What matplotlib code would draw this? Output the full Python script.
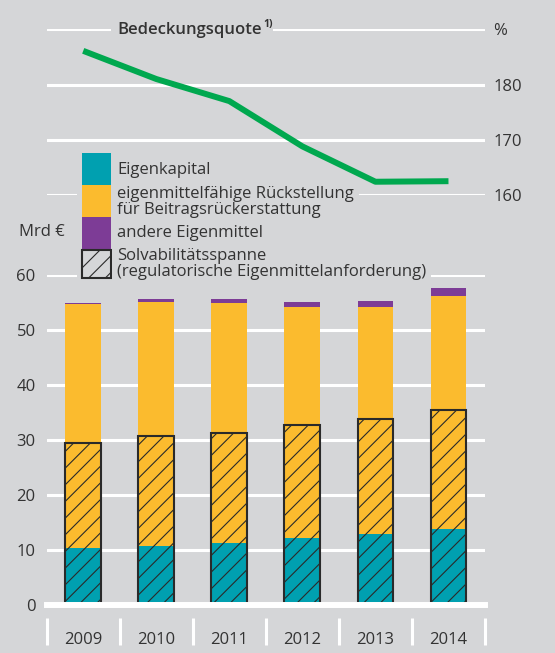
import matplotlib
matplotlib.use("Agg")
import matplotlib.pyplot as plt
from matplotlib.patches import Rectangle
import numpy as np

plt.rcParams['font.family'] = ['Open Sans', 'DejaVu Sans']
plt.rcParams['hatch.linewidth'] = 0.8

# ---- data ----
years = ["2009", "2010", "2011", "2012", "2013", "2014"]
bedeckungsquote = [186.1, 181.0, 177.0, 168.8, 162.4, 162.5]
eigenkapital = [10.3, 10.7, 11.3, 12.2, 13.0, 13.8]
rueckstellung = [44.5, 44.4, 43.7, 41.9, 41.2, 42.4]
andere_eigenmittel = [0.2, 0.5, 0.6, 1.05, 1.0, 1.5]
solvabilitaetsspanne = [29.4, 30.8, 31.3, 32.7, 33.9, 35.4]
bar_ticks = [0, 10, 20, 30, 40, 50, 60]
pct_ticks = [160, 170, 180, 190]
pct_labels = ["160", "170", "180", "%"]

# ---- style ----
BG = "#d5d6d8"
TEAL = "#00a0b0"
YELLOW = "#fbbb2e"
PURPLE = "#7d3c96"
GREEN = "#00a84f"
TXT = "#333333"
HATCH_EDGE = "#2a2a2a"
FS = 12

W, H = 555, 653
fig = plt.figure(figsize=(W / 100, H / 100), dpi=100, facecolor=BG)

def fx(px):
    return px / W

def fy(py):
    return 1 - py / H

x0, x1 = 46.7, 485.0
x = np.arange(len(years))

# ---- bottom (bars) axes ----
ax = fig.add_axes([fx(x0), fy(605), fx(x1) - fx(x0), fy(275) - fy(605)])
ax.set_facecolor("none")
ax.set_xlim(-0.5, 5.5)
ax.set_ylim(0, 60)
for s in ax.spines.values():
    s.set_visible(False)
for t in bar_ticks[1:]:
    ax.axhline(t, color="white", lw=2.2, zorder=0)
ax.axhline(0, color="white", lw=4.3, zorder=5, clip_on=False)

ek = np.array(eigenkapital)
rs = np.array(rueckstellung)
ae = np.array(andere_eigenmittel)
bw = 0.49
ax.bar(x, ek, bw, color=TEAL, zorder=2)
ax.bar(x, rs, bw, bottom=ek, color=YELLOW, zorder=2)
ax.bar(x, ae, bw, bottom=ek + rs, color=PURPLE, zorder=2)
ax.bar(x, solvabilitaetsspanne, bw, facecolor="none", edgecolor=HATCH_EDGE,
       hatch="//", lw=1.5, zorder=3)

ax.set_yticks(bar_ticks)
ax.set_yticklabels([str(t) for t in bar_ticks])
ax.tick_params(axis="y", length=0, pad=8.0, labelsize=FS, labelcolor=TXT)
ax.set_xticks(x)
ax.set_xticklabels(years)
ax.tick_params(axis="x", length=0, pad=19.5, labelsize=FS, labelcolor=TXT)
# category separators
ax.vlines(np.arange(-0.5, 6.0, 1.0), -2.4, -7.3, color="white", lw=2.2,
          clip_on=False)

# ---- top (line) axes ----
ax2 = fig.add_axes([fx(x0), fy(195), fx(x1) - fx(x0), fy(29.3) - fy(195)])
ax2.set_facecolor("none")
ax2.set_xlim(-0.5, 5.5)
ax2.set_ylim(160, 190)
for s in ax2.spines.values():
    s.set_visible(False)
for t in pct_ticks:
    ax2.axhline(t, color="white", lw=2.2, zorder=0)
ax2.plot(x, bedeckungsquote, color=GREEN, lw=4.3, solid_capstyle="butt",
         clip_on=False, zorder=3)
ax2.yaxis.tick_right()
ax2.set_yticks(pct_ticks)
ax2.set_yticklabels(pct_labels)
ax2.tick_params(axis="y", length=0, pad=5.8, labelsize=FS, labelcolor=TXT)
ax2.set_xticks([])

# ---- title ----
# gap in gridline behind the title
fig.patches.append(Rectangle((fx(111), fy(34)), fx(273) - fx(111),
                             fy(24) - fy(34), transform=fig.transFigure,
                             fc=BG, ec="none", zorder=1))
title = fig.text(fx(117), fy(29.5), "Bedeckungsquote", fontsize=FS,
                 color=TXT, va="center", ha="left", fontweight="semibold")
fig.canvas.draw()
bb = title.get_window_extent(renderer=fig.canvas.get_renderer())
fig.text((bb.x1 + 1.5) / W, fy(24.5), "1)", fontsize=7.5, color=TXT,
         va="center", ha="left", fontweight="bold")

# ---- units ----
fig.text(fx(19), fy(232), "Mrd €", fontsize=FS, color=TXT, va="center",
         ha="left")

# ---- legend ----
fig.patches.append(Rectangle((fx(77), fy(282)), fx(116) - fx(77),
                             fy(150) - fy(282), transform=fig.transFigure,
                             fc=BG, ec="none", zorder=1))
sw_x, sw_w = 82, 29
swatches = [(153, 185, TEAL), (185, 217, YELLOW), (217, 249, PURPLE)]
for top, bot, c in swatches:
    fig.patches.append(Rectangle((fx(sw_x), fy(bot)), fx(sw_w),
                                 fy(top) - fy(bot), transform=fig.transFigure,
                                 fc=c, ec="none", zorder=2))
fig.patches.append(Rectangle((fx(sw_x), fy(277.5)), fx(sw_w),
                             fy(250) - fy(277.5), transform=fig.transFigure,
                             fc="none", ec=HATCH_EDGE, hatch="//", lw=1.5,
                             zorder=2))
labels = [
    (170, "Eigenkapital"),
    (202, "eigenmittelfähige Rückstellung\nfür Beitragsrückerstattung"),
    (233, "andere Eigenmittel"),
    (264, "Solvabilitätsspanne\n(regulatorische Eigenmittelanforderung)"),
]
for yy, lab in labels:
    fig.text(fx(117), fy(yy), lab, fontsize=FS, color=TXT, va="center",
             ha="left", linespacing=1.05,
             bbox=dict(boxstyle="square,pad=0.3", fc=BG, ec="none"))

fig.savefig("out.png", dpi=100, facecolor=BG)
